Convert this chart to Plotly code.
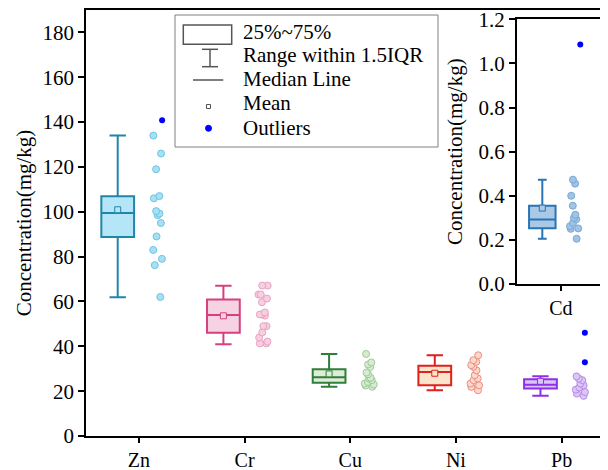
import plotly.graph_objects as go

# ---------------- data ----------------
elements = ["Zn", "Cr", "Cu", "Ni", "Pb"]
positions = [1, 2, 3, 4, 5]

q1_vals = [88.8, 46.0, 23.8, 22.6, 21.2]
median_vals = [99.5, 54.0, 26.2, 28.6, 22.9]
q3_vals = [106.9, 60.9, 29.8, 31.3, 25.3]
low_whisker = [61.9, 40.9, 22.0, 20.4, 17.9]
high_whisker = [134.0, 67.0, 36.6, 36.0, 26.6]
mean_vals = [100.9, 53.6, 27.7, 28.0, 24.4]

zn_points = [134, 126, 119, 107, 106, 100.3, 99.2, 98.5, 95, 89, 83, 79, 76.2, 62]
cr_points = [67.1, 67.1, 63.1, 63.1, 61.3, 59.7, 55.1, 54.2, 54.2, 53.7, 49, 49, 46.2, 43.9, 42.1, 41.3, 41.3]
cu_points = [36.6, 32.8, 31.9, 30.8, 28.3, 27.5, 26.0, 25.6, 24.9, 24.1, 23.4, 23.0, 22.5, 22.0]
ni_points = [36.0, 33.8, 33.1, 31.6, 30.9, 29.3, 27.1, 25.7, 24.9, 23.4, 22.6, 21.9, 20.4]
pb_points = [26.6, 25.6, 24.9, 23.4, 22.6, 21.6, 20.7, 19.6, 18.9, 17.9]
points_by_element = [zn_points, cr_points, cu_points, ni_points, pb_points]

outliers_by_element = [[140.8], [], [], [], [46.0, 32.9]]

# inset: Cd
cd_label = "Cd"
cd_q1, cd_median, cd_q3 = 0.253, 0.292, 0.355
cd_low, cd_high, cd_mean = 0.205, 0.473, 0.344
cd_points = [0.473, 0.455, 0.40, 0.355, 0.314, 0.294, 0.30, 0.277, 0.262, 0.252, 0.25, 0.205]
cd_outliers = [1.086]
cd_ticks = [0.0, 0.2, 0.4, 0.6, 0.8, 1.0, 1.2]
cd_tick_text = ["0.0", "0.2", "0.4", "0.6", "0.8", "1.0", "1.2"]

legend_labels = ["25%~75%", "Range within 1.5IQR", "Median Line", "Mean", "Outliers"]

# ---------------- styles ----------------
line_colors = ["#1f86a8", "#d6407f", "#2f7f3a", "#e0201b", "#8f2fe8"]
fill_colors = ["#b5e6f7", "#f6d3e2", "#dfecd7", "#fbe3cc", "#d9c6f7"]
pt_fill = ["#a9dff2", "#f7d0e0", "#d7ebd0", "#fbd9c6", "#dcc6f5"]
pt_line = ["#6cc6e6", "#eaa2c2", "#9ccb98", "#ec8d88", "#b78be8"]
cd_line, cd_fill, cd_pfill, cd_pline = "#2874b5", "#a9c9e6", "#a0c4e6", "#78a8d6"
outlier_color = "#0000ff"
FONT = "Liberation Serif, Times New Roman, DejaVu Serif, serif"

BOX_OFF, PT_OFF, OUT_OFF = -0.2, 0.18, 0.22

fig = go.Figure()

for i, name in enumerate(elements):
    p = positions[i]
    fig.add_trace(go.Box(
        x=[p + BOX_OFF], q1=[q1_vals[i]], median=[median_vals[i]], q3=[q3_vals[i]],
        lowerfence=[low_whisker[i]], upperfence=[high_whisker[i]],
        width=0.31, whiskerwidth=0.5, fillcolor=fill_colors[i],
        line=dict(color=line_colors[i], width=2), boxpoints=False,
        showlegend=False, name=name))
    fig.add_trace(go.Scatter(
        x=[p + BOX_OFF], y=[mean_vals[i]], mode="markers",
        marker=dict(symbol="square", size=6, color=fill_colors[i],
                    line=dict(color=line_colors[i], width=1)),
        showlegend=False))
    pts = points_by_element[i]
    fig.add_trace(go.Box(
        x=[p + PT_OFF] * len(pts), y=pts, boxpoints="all", jitter=0.55, pointpos=0,
        width=0.2, fillcolor="rgba(0,0,0,0)", line=dict(width=0, color="rgba(0,0,0,0)"),
        marker=dict(size=7, color=pt_fill[i], line=dict(color=pt_line[i], width=1)),
        showlegend=False, name=name))
    outs = outliers_by_element[i]
    if outs:
        fig.add_trace(go.Scatter(
            x=[p + OUT_OFF] * len(outs), y=outs, mode="markers",
            marker=dict(size=6, color=outlier_color), showlegend=False))

# inset Cd
fig.add_trace(go.Box(
    x=[1 - 0.21], q1=[cd_q1], median=[cd_median], q3=[cd_q3],
    lowerfence=[cd_low], upperfence=[cd_high], width=0.3, whiskerwidth=0.33,
    fillcolor=cd_fill, line=dict(color=cd_line, width=2), boxpoints=False,
    xaxis="x2", yaxis="y2", showlegend=False, name=cd_label))
fig.add_trace(go.Scatter(
    x=[1 - 0.21], y=[cd_mean], mode="markers", xaxis="x2", yaxis="y2",
    marker=dict(symbol="square", size=6, color=cd_fill, line=dict(color=cd_line, width=1)),
    showlegend=False))
fig.add_trace(go.Box(
    x=[1 + 0.15] * len(cd_points), y=cd_points, boxpoints="all", jitter=0.6, pointpos=0,
    width=0.2, fillcolor="rgba(0,0,0,0)", line=dict(width=0, color="rgba(0,0,0,0)"),
    marker=dict(size=7, color=cd_pfill, line=dict(color=cd_pline, width=1)),
    xaxis="x2", yaxis="y2", showlegend=False, name=cd_label))
fig.add_trace(go.Scatter(
    x=[1 + 0.22] * len(cd_outliers), y=cd_outliers, mode="markers", xaxis="x2", yaxis="y2",
    marker=dict(size=6, color=outlier_color), showlegend=False))

# ---------------- layout ----------------
OFF = 8  # page body margin offset in the screenshot
W, H = 608 - OFF, 470 - OFF
ML, MR, MT, MB = 86 - OFF, 2, 10 - OFF, 34
PW, PH = W - ML - MR, H - MT - MB


def px(x):
    return (x - OFF - ML) / PW


def py(y):
    return (H - MB - (y - OFF)) / PH


axis_common = dict(showline=True, linecolor="black", linewidth=1.5, mirror=True,
                   ticks="outside", tickcolor="black", tickwidth=1.5,
                   showgrid=False, zeroline=False, automargin=False,
                   ticklabeloverflow="allow")

yfont = dict(family=FONT, size=21, color="black")
xfont = dict(family=FONT, size=20, color="black")

fig.update_layout(
    width=W, height=H, margin=dict(l=ML, r=MR, t=MT, b=MB, autoexpand=False),
    plot_bgcolor="white", paper_bgcolor="white", boxmode="overlay",
    font=dict(family=FONT, size=21, color="black"),
    xaxis=dict(range=[0.5, 5.42], tickvals=positions, ticktext=elements, ticklen=5,
               tickfont=xfont, **axis_common),
    yaxis=dict(range=[0, 190], dtick=20, ticklen=6, tickfont=yfont,
               title=dict(text="Concentration(mg/kg)", font=dict(family=FONT, size=21),
                          standoff=5), **axis_common),
    xaxis2=dict(domain=[px(516.7), px(605)], anchor="y2", range=[0.5, 1.5], ticklen=5,
                tickvals=[1], ticktext=[cd_label], tickfont=xfont, **axis_common),
    yaxis2=dict(domain=[py(284), py(19.3)], anchor="x2", range=[0, 1.2], ticklen=6,
                tickvals=cd_ticks, ticktext=cd_tick_text, tickfont=yfont,
                title=dict(text="Concentration(mg/kg)", font=dict(family=FONT, size=21),
                           standoff=10), **axis_common),
)

shapes = []
annots = []
shapes.append(dict(type="rect", xref="paper", yref="paper", x0=px(175), x1=px(438),
                   y0=py(147), y1=py(15), line=dict(color="#808080", width=1),
                   fillcolor="white", layer="above"))
sym = "#555555"
shapes.append(dict(type="rect", xref="paper", yref="paper", x0=px(183.3), x1=px(231.7),
                   y0=py(44.3), y1=py(25), line=dict(color=sym, width=1.5), layer="above"))
shapes.append(dict(type="line", xref="paper", yref="paper", x0=px(210), x1=px(210),
                   y0=py(66.7), y1=py(49.3), line=dict(color=sym, width=1.5), layer="above"))
shapes.append(dict(type="line", xref="paper", yref="paper", x0=px(202), x1=px(218),
                   y0=py(49.3), y1=py(49.3), line=dict(color=sym, width=1.5), layer="above"))
shapes.append(dict(type="line", xref="paper", yref="paper", x0=px(202), x1=px(218),
                   y0=py(66.7), y1=py(66.7), line=dict(color=sym, width=1.5), layer="above"))
shapes.append(dict(type="line", xref="paper", yref="paper", x0=px(193), x1=px(223.3),
                   y0=py(80), y1=py(80), line=dict(color=sym, width=1.5), layer="above"))
shapes.append(dict(type="rect", xref="paper", yref="paper", x0=px(206.5), x1=px(210.5),
                   y0=py(108.5), y1=py(104.5), line=dict(color=sym, width=1), layer="above"))
shapes.append(dict(type="circle", xref="paper", yref="paper", x0=px(205.5), x1=px(211.5),
                   y0=py(131.3), y1=py(125.3), line=dict(color=outlier_color, width=1),
                   fillcolor=outlier_color, layer="above"))

text_y = [31.7, 55, 79, 103.3, 127.7]
for lab, ty in zip(legend_labels, text_y):
    annots.append(dict(xref="paper", yref="paper", x=px(241), y=py(ty), text=lab,
                       showarrow=False, xanchor="left", yanchor="middle",
                       font=dict(family=FONT, size=21, color="black")))

fig.update_layout(shapes=shapes, annotations=annots)

fig.write_html("out.html")
